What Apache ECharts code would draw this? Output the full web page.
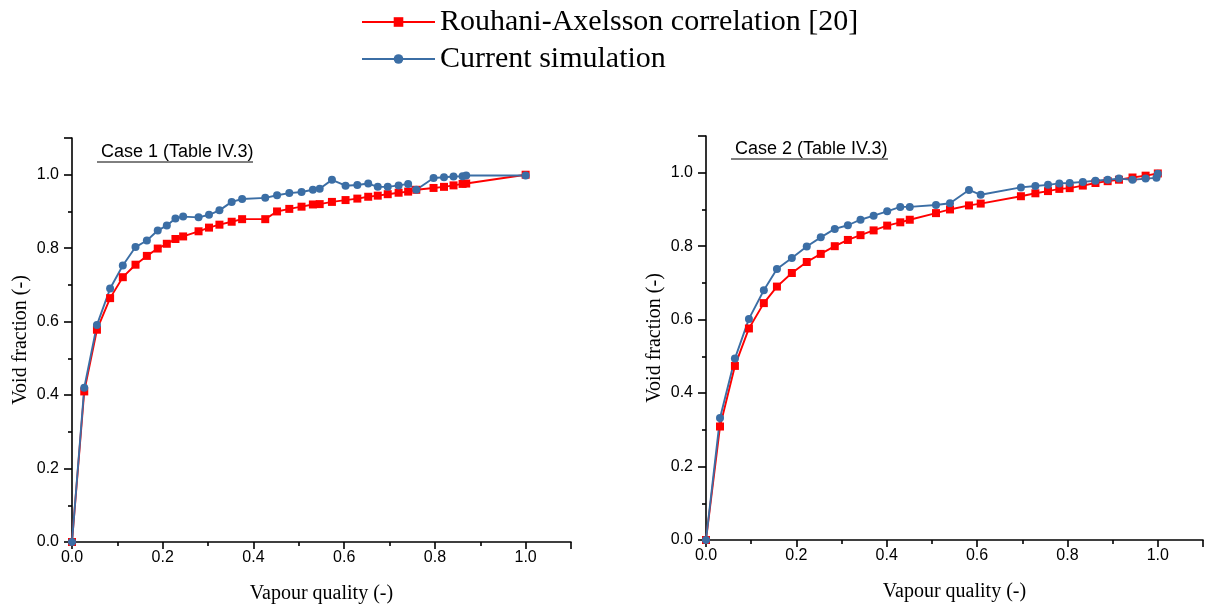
<!DOCTYPE html>
<html>
<head>
<meta charset="utf-8">
<script src="https://cdn.jsdelivr.net/npm/echarts@6/dist/echarts.min.js"></script>
<style>html,body{margin:0;padding:0;background:#fff}#c{width:1206px;height:613px}</style>
</head>
<body>
<div id="c"></div>
<script>
// ---- Data ----
const seriesNames = ['Rouhani-Axelsson correlation [20]', 'Current simulation'];
const caseTitles = ['Case 1 (Table IV.3)', 'Case 2 (Table IV.3)'];
const xTickLabels = ['0.0','0.2','0.4','0.6','0.8','1.0'];

// Case 1
const xCase1 = [0, 0.027, 0.055, 0.084, 0.112, 0.14, 0.165, 0.189, 0.209, 0.228, 0.245, 0.279, 0.302, 0.325, 0.352, 0.375, 0.426, 0.452, 0.479, 0.506, 0.531, 0.546, 0.573, 0.603, 0.629, 0.653, 0.674, 0.696, 0.720, 0.741, 0.759, 0.797, 0.820, 0.841, 0.861, 0.869, 1.0];
const rouhaniCase1 = [0, 0.41, 0.578, 0.664, 0.721, 0.755, 0.779, 0.799, 0.812, 0.825, 0.832, 0.846, 0.856, 0.864, 0.872, 0.879, 0.879, 0.900, 0.907, 0.913, 0.919, 0.920, 0.926, 0.931, 0.935, 0.940, 0.943, 0.947, 0.951, 0.954, 0.959, 0.964, 0.967, 0.971, 0.975, 0.976, 1.0];
const simCase1 = [0, 0.42, 0.591, 0.690, 0.753, 0.803, 0.821, 0.848, 0.862, 0.881, 0.886, 0.884, 0.891, 0.903, 0.926, 0.934, 0.937, 0.944, 0.950, 0.953, 0.959, 0.962, 0.986, 0.970, 0.972, 0.976, 0.967, 0.967, 0.971, 0.975, 0.959, 0.991, 0.993, 0.995, 0.996, 0.998, 0.998];

// Case 2
const xCase2Rouhani = [0, 0.031, 0.064, 0.095, 0.128, 0.157, 0.190, 0.223, 0.254, 0.285, 0.314, 0.342, 0.371, 0.401, 0.430, 0.451, 0.509, 0.540, 0.582, 0.608, 0.697, 0.729, 0.757, 0.782, 0.805, 0.834, 0.862, 0.889, 0.914, 0.944, 0.973, 1.0];
const rouhaniCase2 = [0, 0.309, 0.474, 0.576, 0.645, 0.690, 0.727, 0.757, 0.779, 0.800, 0.817, 0.830, 0.843, 0.856, 0.865, 0.872, 0.890, 0.900, 0.911, 0.916, 0.936, 0.944, 0.950, 0.956, 0.958, 0.965, 0.972, 0.977, 0.981, 0.987, 0.992, 0.998];
const xCase2Sim = [0, 0.031, 0.064, 0.095, 0.128, 0.157, 0.190, 0.223, 0.254, 0.285, 0.314, 0.342, 0.371, 0.401, 0.430, 0.451, 0.509, 0.540, 0.582, 0.608, 0.697, 0.729, 0.757, 0.782, 0.805, 0.834, 0.862, 0.889, 0.914, 0.944, 0.973, 0.997, 1.0];
const simCase2 = [0, 0.332, 0.494, 0.602, 0.680, 0.738, 0.768, 0.799, 0.824, 0.847, 0.857, 0.872, 0.883, 0.895, 0.907, 0.907, 0.912, 0.917, 0.953, 0.940, 0.960, 0.964, 0.967, 0.971, 0.972, 0.975, 0.978, 0.981, 0.984, 0.981, 0.984, 0.986, 0.997];

// ---- Chart ----
const RED = '#ff0000';
const BLUE = '#3b6ea5';
const pairs = (xs, ys) => xs.map((x, i) => [x, ys[i]]);
const chart = echarts.init(document.getElementById('c'));

function xAxisCfg(idx) {
  return {
    type: 'value', gridIndex: idx, min: 0, max: 1.1, interval: 0.2,
    name: 'Vapour quality (-)', nameLocation: 'middle', nameGap: 42,
    nameTextStyle: { fontFamily: 'Liberation Serif', fontSize: 20, color: '#000' },
    axisLine: { show: true, lineStyle: { color: '#000', width: 1.6 } },
    axisTick: { show: true, length: 7, lineStyle: { color: '#000', width: 1.6 } },
    minorTick: { show: true, splitNumber: 2, length: 4, lineStyle: { color: '#000', width: 1.6 } },
    splitLine: { show: false },
    axisLabel: { fontFamily: 'Liberation Sans', fontSize: 16, color: '#000', margin: 8,
      formatter: v => { const s = v.toFixed(1); return xTickLabels.includes(s) && v <= 1.0001 ? s : ''; } }
  };
}
function yAxisCfg(idx) {
  return {
    type: 'value', gridIndex: idx, min: 0, max: 1.1, interval: 0.2,
    name: 'Void fraction (-)', nameLocation: 'middle', nameGap: 41,
    nameTextStyle: { fontFamily: 'Liberation Serif', fontSize: 20, color: '#000' },
    axisLine: { show: true, lineStyle: { color: '#000', width: 1.6 } },
    axisTick: { show: true, length: 8, lineStyle: { color: '#000', width: 1.6 } },
    minorTick: { show: true, splitNumber: 2, length: 4, lineStyle: { color: '#000', width: 1.6 } },
    splitLine: { show: false },
    axisLabel: { fontFamily: 'Liberation Sans', fontSize: 16, color: '#000', margin: 13,
      formatter: v => v <= 1.0001 ? v.toFixed(1) : '' }
  };
}
function lineSeries(name, data, idx, color, symbol, size) {
  return {
    name, type: 'line', xAxisIndex: idx, yAxisIndex: idx, data,
    symbol, symbolSize: size, showSymbol: true,
    lineStyle: { color, width: 1.9 }, itemStyle: { color },
    animation: false
  };
}

chart.setOption({
  backgroundColor: '#fff',
  animation: false,
  legend: {
    orient: 'vertical', left: 356, top: 2, itemWidth: 73, itemHeight: 12, itemGap: 7,
    textStyle: { fontFamily: 'Liberation Serif', fontSize: 30, color: '#000', padding: [0, 0, 0, 0] },
    data: seriesNames
  },
  title: [
    { text: caseTitles[0], left: 96, top: 138, textStyle: { fontFamily: 'Liberation Sans', fontSize: 18, fontWeight: 'normal', color: '#000' } },
    { text: caseTitles[1], left: 730, top: 135, textStyle: { fontFamily: 'Liberation Sans', fontSize: 18, fontWeight: 'normal', color: '#000' } }
  ],
  graphic: [
    { type: 'line', shape: { x1: 97, y1: 162, x2: 253, y2: 162 }, style: { stroke: '#000', lineWidth: 1 } },
    { type: 'line', shape: { x1: 731, y1: 159, x2: 888, y2: 159 }, style: { stroke: '#000', lineWidth: 1 } }
  ],
  grid: [
    { left: 72, right: 635, top: 138, bottom: 71 },
    { left: 706, right: 1, top: 136, bottom: 73 }
  ],
  xAxis: [xAxisCfg(0), xAxisCfg(1)],
  yAxis: [yAxisCfg(0), yAxisCfg(1)],
  series: [
    lineSeries(seriesNames[0], pairs(xCase1, rouhaniCase1), 0, RED, 'rect', 8),
    lineSeries(seriesNames[1], pairs(xCase1, simCase1), 0, BLUE, 'circle', 8),
    lineSeries(seriesNames[0], pairs(xCase2Rouhani, rouhaniCase2), 1, RED, 'rect', 8),
    lineSeries(seriesNames[1], pairs(xCase2Sim, simCase2), 1, BLUE, 'circle', 8)
  ]
});
</script>
</body>
</html>
